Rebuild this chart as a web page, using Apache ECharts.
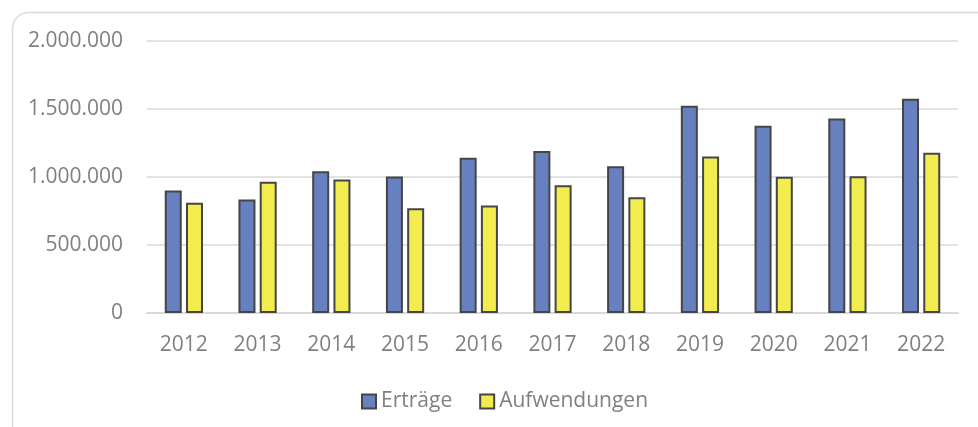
<!DOCTYPE html>
<html>
<head>
<meta charset="utf-8">
<script src="https://cdn.jsdelivr.net/npm/echarts@6/dist/echarts.min.js"></script>
<style>html,body{margin:0;padding:0;background:#fff}#c{width:978px;height:427px}</style>
</head>
<body>
<div id="c"></div>
<script>
const categories = ['2012','2013','2014','2015','2016','2017','2018','2019','2020','2021','2022'];
const ertraege = [900000, 835000, 1042000, 1004000, 1141000, 1192000, 1079000, 1524000, 1377000, 1431000, 1575000];
const aufwendungen = [811000, 965000, 982000, 771000, 791000, 940000, 852000, 1150000, 1001000, 1006000, 1179000];
const yTicks = {min: 0, max: 2000000, interval: 500000};

function fmt(v){ return String(v).replace(/\B(?=(\d{3})+(?!\d))/g, '.'); }

const chart = echarts.init(document.getElementById('c'));
const font = '"Open Sans", sans-serif';
chart.setOption({
  animation: false,
  backgroundColor: '#fff',
  graphic: [{
    type: 'rect', left: 10, top: 10,
    shape: {width: 1000, height: 450, r: 16},
    style: {fill: 'none', stroke: '#d9d9d9', lineWidth: 1.5},
    silent: true, z: -1
  }],
  grid: {left: 147, right: 20, top: 41, bottom: 114, containLabel: false},
  legend: {
    data: ['Erträge', 'Aufwendungen'],
    left: 356, top: 386,
    itemWidth: 14, itemHeight: 14, itemGap: 27,
    icon: 'rect',
    textStyle: {color: '#808080', fontSize: 21, fontFamily: font}
  },
  xAxis: {
    type: 'category', data: categories,
    axisLine: {lineStyle: {color: '#d9d9d9', width: 2}},
    axisTick: {show: false},
    axisLabel: {color: '#808080', fontSize: 21, fontFamily: font, margin: 22}
  },
  yAxis: {
    type: 'value', min: yTicks.min, max: yTicks.max, interval: yTicks.interval,
    axisLine: {show: false}, axisTick: {show: false},
    splitLine: {lineStyle: {color: '#d9d9d9', width: 1.5}},
    axisLabel: {color: '#808080', fontSize: 21, fontFamily: font, margin: 24, formatter: fmt}
  },
  series: [
    {name: 'Erträge', type: 'bar', data: ertraege, barWidth: 17, barGap: '25%',
     itemStyle: {color: '#6780C0', borderColor: '#454545', borderWidth: 2}},
    {name: 'Aufwendungen', type: 'bar', data: aufwendungen, barWidth: 17,
     itemStyle: {color: '#F3EC4F', borderColor: '#454545', borderWidth: 2}}
  ]
});
</script>
</body>
</html>
